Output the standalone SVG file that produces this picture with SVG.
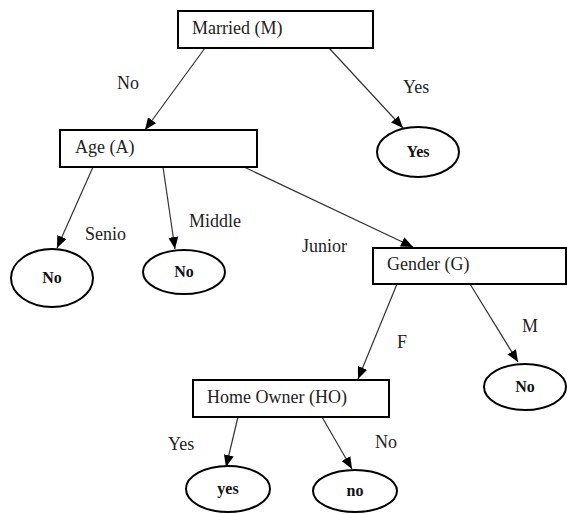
<svg xmlns="http://www.w3.org/2000/svg" width="567" height="514" viewBox="0 0 567 514">
<defs>
<marker id="arr" markerUnits="userSpaceOnUse" markerWidth="14" markerHeight="12" refX="12" refY="5" orient="auto">
<path d="M0,0 L12,5 L0,10 Z" fill="#000"/>
</marker>
<style>
.box{fill:#fff;stroke:#000;stroke-width:2}
.leaf{fill:#fff;stroke:#000;stroke-width:2}
text{font-family:'Liberation Serif','Times New Roman',serif}
.t{font-size:18px;fill:#222}
.b{font-size:16px;font-weight:bold;fill:#111;text-anchor:middle}
.c{stroke:#333;stroke-width:1.2;fill:none;marker-end:url(#arr)}
</style>
</defs>
<rect width="567" height="514" fill="#fff"/>
<g id="connectors">
<line class="c" x1="205" y1="48" x2="145" y2="130"/>
<line class="c" x1="329" y1="48" x2="403" y2="128"/>
<line class="c" x1="93" y1="167" x2="57" y2="248"/>
<line class="c" x1="163" y1="167" x2="175" y2="249"/>
<line class="c" x1="244" y1="167" x2="413" y2="247"/>
<line class="c" x1="397" y1="284" x2="358" y2="379"/>
<line class="c" x1="470" y1="284" x2="518" y2="362"/>
<line class="c" x1="238" y1="417" x2="226" y2="467"/>
<line class="c" x1="322" y1="417" x2="352" y2="469"/>
</g>
<g id="edge-labels">
<text class="t" x="117" y="89">No</text>
<text class="t" x="403" y="93">Yes</text>
<text class="t" x="85" y="240">Senio</text>
<text class="t" x="189" y="227">Middle</text>
<text class="t" x="302" y="252">Junior</text>
<text class="t" x="397" y="348">F</text>
<text class="t" x="522" y="332">M</text>
<text class="t" x="168" y="450">Yes</text>
<text class="t" x="375" y="448">No</text>
</g>
<g id="married">
<rect class="box" x="178" y="11" width="195" height="37"/>
<text class="t" x="192" y="34">Married (M)</text>
</g>
<g id="age">
<rect class="box" x="60" y="130" width="197" height="37"/>
<text class="t" x="75" y="153">Age (A)</text>
</g>
<g id="gender">
<rect class="box" x="373" y="248" width="193" height="36"/>
<text class="t" x="387" y="270">Gender (G)</text>
</g>
<g id="homeowner">
<rect class="box" x="193" y="380" width="196" height="37"/>
<text class="t" x="207" y="403">Home Owner (HO)</text>
</g>
<g id="leaf-yes-married">
<ellipse class="leaf" cx="418" cy="152" rx="41" ry="25"/>
<text class="b" x="418" y="157">Yes</text>
</g>
<g id="leaf-no-senior">
<ellipse class="leaf" cx="52" cy="278" rx="41" ry="29"/>
<text class="b" x="52" y="283">No</text>
</g>
<g id="leaf-no-middle">
<ellipse class="leaf" cx="184" cy="272" rx="41" ry="22"/>
<text class="b" x="184" y="277">No</text>
</g>
<g id="leaf-no-male">
<ellipse class="leaf" cx="525" cy="387" rx="41" ry="23"/>
<text class="b" x="525" y="392">No</text>
</g>
<g id="leaf-yes-ho">
<ellipse class="leaf" cx="228" cy="489" rx="42" ry="23"/>
<text class="b" x="228" y="494">yes</text>
</g>
<g id="leaf-no-ho">
<ellipse class="leaf" cx="355" cy="491" rx="42" ry="21"/>
<text class="b" x="355" y="496">no</text>
</g>
</svg>
